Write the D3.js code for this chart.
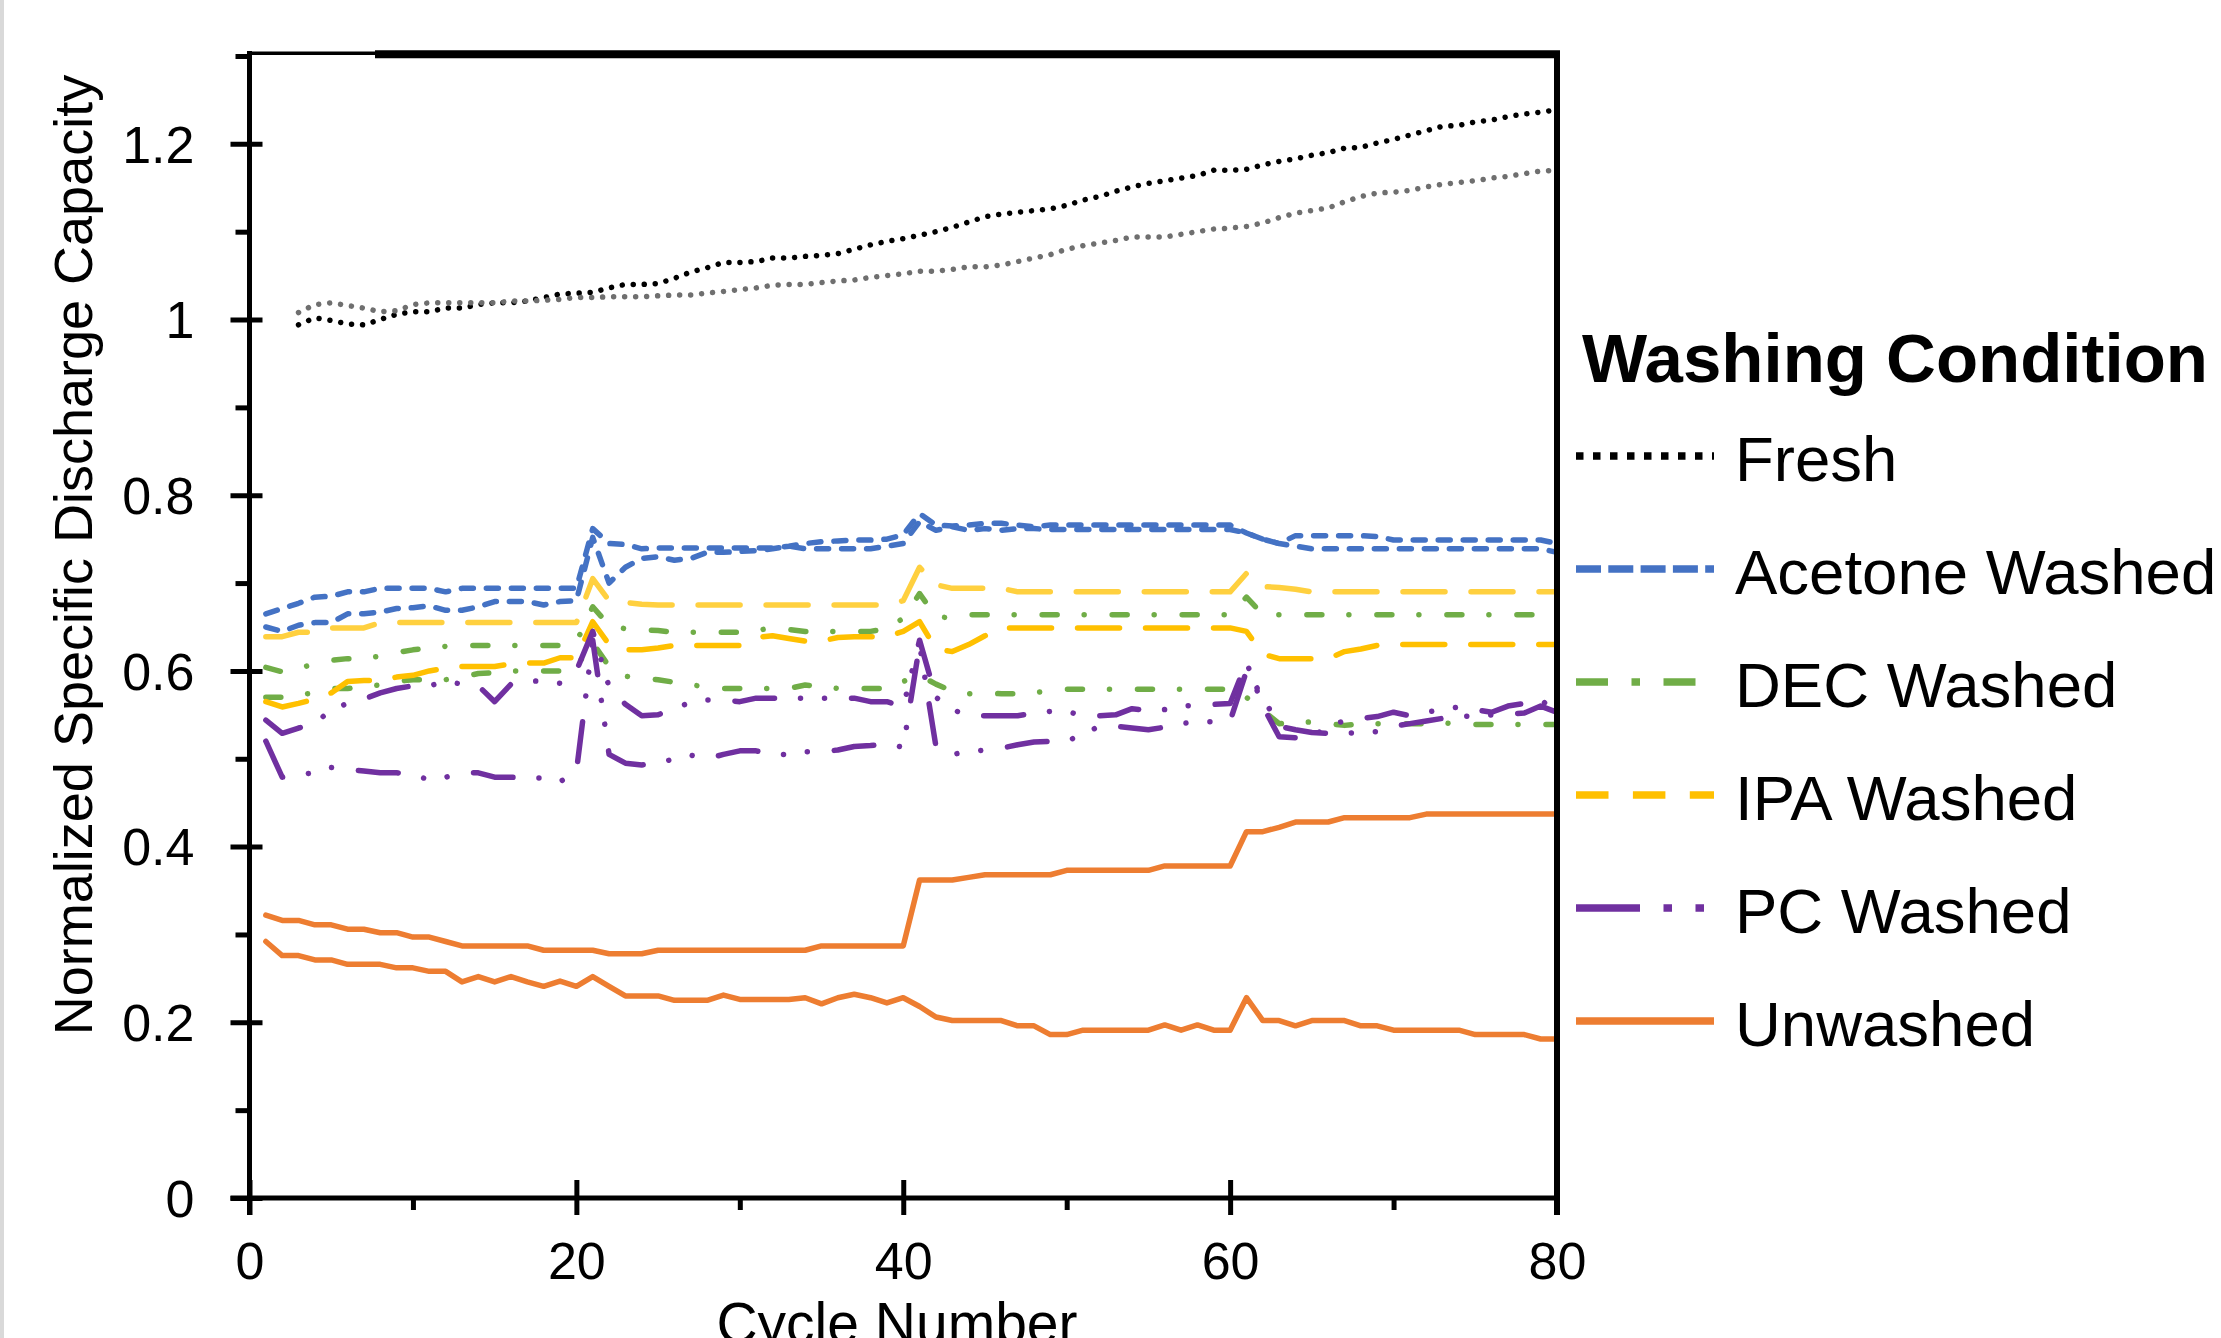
<!DOCTYPE html>
<html>
<head>
<meta charset="utf-8">
<script src="https://cdn.jsdelivr.net/npm/d3@7"></script>
<style>
  html, body { margin: 0; padding: 0; background: #fff; }
  svg { display: block; font-family: "Liberation Sans", Arial, sans-serif; }
</style>
</head>
<body>
<div id="chart"></div>
<script>
// cycle numbers (x categories)
const cycles = [
  1, 2, 3, 4, 5, 6, 7, 8, 9, 10, 11, 12, 13, 14, 15, 16, 17, 18, 19, 20,
  21, 22, 23, 24, 25, 26, 27, 28, 29, 30, 31, 32, 33, 34, 35, 36, 37, 38, 39, 40,
  41, 42, 43, 44, 45, 46, 47, 48, 49, 50, 51, 52, 53, 54, 55, 56, 57, 58, 59, 60,
  61, 62, 63, 64, 65, 66, 67, 68, 69, 70, 71, 72, 73, 74, 75, 76, 77, 78, 79, 80
];

// two cells per washing condition
const freshA = [
  null, null, 0.994, 1.002, 0.999, 0.995, 0.994, 1.000, 1.006, 1.009,
  1.009, 1.013, 1.013, 1.017, 1.019, 1.019, 1.021, 1.025, 1.029, 1.030,
  1.031, 1.036, 1.040, 1.040, 1.041, 1.047, 1.054, 1.059, 1.065, 1.065,
  1.066, 1.070, 1.070, 1.072, 1.073, 1.075, 1.080, 1.085, 1.089, 1.092,
  1.096, 1.100, 1.105, 1.111, 1.117, 1.120, 1.122, 1.124, 1.126, 1.130,
  1.136, 1.140, 1.146, 1.151, 1.155, 1.158, 1.161, 1.164, 1.170, 1.170,
  1.171, 1.176, 1.180, 1.183, 1.187, 1.190, 1.195, 1.196, 1.201, 1.205,
  1.210, 1.215, 1.220, 1.221, 1.225, 1.227, 1.231, 1.234, 1.236, 1.239
];
const freshB = [
  null, null, 1.008, 1.017, 1.019, 1.016, 1.013, 1.009, 1.010, 1.017,
  1.019, 1.019, 1.019, 1.019, 1.019, 1.021, 1.021, 1.022, 1.023, 1.025,
  1.025, 1.026, 1.026, 1.026, 1.027, 1.028, 1.028, 1.030, 1.032, 1.034,
  1.036, 1.039, 1.040, 1.040, 1.042, 1.044, 1.045, 1.048, 1.050, 1.052,
  1.055, 1.055, 1.057, 1.060, 1.060, 1.062, 1.066, 1.070, 1.074, 1.080,
  1.084, 1.087, 1.090, 1.094, 1.094, 1.094, 1.097, 1.100, 1.103, 1.104,
  1.106, 1.110, 1.116, 1.121, 1.124, 1.127, 1.134, 1.140, 1.144, 1.145,
  1.147, 1.151, 1.154, 1.156, 1.158, 1.161, 1.163, 1.166, 1.169, 1.170
];
const acetoneA = [
  0.665, 0.671, 0.677, 0.684, 0.685, 0.690, 0.690, 0.694, 0.694, 0.694,
  0.694, 0.690, 0.694, 0.694, 0.694, 0.694, 0.694, 0.694, 0.694, 0.694,
  0.762, 0.745, 0.744, 0.739, 0.740, 0.740, 0.740, 0.740, 0.740, 0.740,
  0.740, 0.740, 0.742, 0.745, 0.747, 0.748, 0.749, 0.749, 0.750, 0.755,
  0.779, 0.766, 0.765, 0.766, 0.768, 0.768, 0.766, 0.764, 0.766, 0.766,
  0.766, 0.766, 0.766, 0.766, 0.766, 0.766, 0.766, 0.766, 0.766, 0.766,
  0.757, 0.750, 0.745, 0.754, 0.754, 0.754, 0.754, 0.754, 0.753, 0.749,
  0.749, 0.749, 0.749, 0.749, 0.749, 0.749, 0.749, 0.749, 0.749, 0.745
];
const acetoneB = [
  0.650, 0.645, 0.652, 0.655, 0.655, 0.665, 0.665, 0.667, 0.671, 0.672,
  0.674, 0.669, 0.669, 0.673, 0.679, 0.679, 0.679, 0.675, 0.679, 0.680,
  0.752, 0.700, 0.718, 0.728, 0.730, 0.726, 0.728, 0.735, 0.735, 0.736,
  0.737, 0.739, 0.742, 0.739, 0.739, 0.739, 0.739, 0.739, 0.742, 0.745,
  0.770, 0.760, 0.764, 0.760, 0.762, 0.760, 0.762, 0.762, 0.761, 0.761,
  0.761, 0.761, 0.761, 0.761, 0.761, 0.761, 0.761, 0.761, 0.761, 0.761,
  0.757, 0.750, 0.745, 0.742, 0.739, 0.739, 0.739, 0.739, 0.739, 0.739,
  0.739, 0.739, 0.739, 0.739, 0.739, 0.739, 0.739, 0.739, 0.739, 0.735
];
const decA = [
  0.604, 0.599, 0.603, 0.608, 0.612, 0.614, 0.614, 0.617, 0.621, 0.624,
  0.626, 0.628, 0.629, 0.629, 0.629, 0.629, 0.629, 0.629, 0.629, 0.633,
  0.673, 0.652, 0.648, 0.647, 0.646, 0.644, 0.644, 0.644, 0.644, 0.644,
  0.646, 0.649, 0.647, 0.645, 0.645, 0.645, 0.645, 0.645, 0.648, 0.660,
  0.688, 0.662, 0.660, 0.664, 0.664, 0.664, 0.664, 0.664, 0.664, 0.664,
  0.664, 0.664, 0.664, 0.664, 0.664, 0.664, 0.664, 0.664, 0.664, 0.664,
  0.684, 0.664, 0.664, 0.664, 0.664, 0.664, 0.664, 0.664, 0.664, 0.664,
  0.664, 0.664, 0.664, 0.664, 0.664, 0.664, 0.664, 0.664, 0.664, 0.664
];
const decB = [
  0.570, 0.570, 0.573, 0.575, 0.580, 0.580, 0.582, 0.584, 0.588, 0.590,
  0.590, 0.590, 0.593, 0.597, 0.598, 0.600, 0.600, 0.600, 0.600, 0.605,
  0.632, 0.605, 0.594, 0.592, 0.590, 0.587, 0.584, 0.582, 0.580, 0.580,
  0.580, 0.580, 0.580, 0.584, 0.582, 0.580, 0.580, 0.580, 0.580, 0.588,
  0.595, 0.585, 0.577, 0.574, 0.575, 0.574, 0.574, 0.575, 0.578, 0.579,
  0.579, 0.579, 0.579, 0.579, 0.579, 0.579, 0.579, 0.579, 0.579, 0.579,
  0.570, 0.555, 0.540, 0.541, 0.542, 0.540, 0.538, 0.540, 0.540, 0.540,
  0.540, 0.540, 0.541, 0.539, 0.539, 0.539, 0.539, 0.539, 0.539, 0.539
];
const ipaA = [
  0.639, 0.639, 0.644, 0.644, 0.649, 0.649, 0.649, 0.655, 0.655, 0.655,
  0.655, 0.655, 0.655, 0.655, 0.655, 0.655, 0.655, 0.655, 0.655, 0.655,
  0.705, 0.680, 0.678, 0.676, 0.675, 0.675, 0.675, 0.675, 0.675, 0.675,
  0.675, 0.675, 0.675, 0.675, 0.675, 0.675, 0.675, 0.675, 0.675, 0.680,
  0.718, 0.698, 0.694, 0.694, 0.694, 0.694, 0.690, 0.690, 0.690, 0.690,
  0.690, 0.690, 0.690, 0.690, 0.690, 0.690, 0.690, 0.690, 0.690, 0.690,
  0.711, 0.696, 0.695, 0.693, 0.690, 0.690, 0.690, 0.690, 0.690, 0.690,
  0.690, 0.690, 0.690, 0.690, 0.690, 0.690, 0.690, 0.690, 0.690, 0.690
];
const ipaB = [
  0.565, 0.559, 0.563, 0.568, 0.575, 0.588, 0.589, 0.589, 0.593, 0.595,
  0.600, 0.603, 0.605, 0.605, 0.605, 0.608, 0.609, 0.609, 0.615, 0.615,
  0.656, 0.630, 0.624, 0.624, 0.626, 0.629, 0.629, 0.629, 0.629, 0.629,
  0.638, 0.640, 0.637, 0.634, 0.634, 0.638, 0.639, 0.639, 0.639, 0.645,
  0.656, 0.625, 0.622, 0.630, 0.640, 0.649, 0.649, 0.649, 0.649, 0.649,
  0.649, 0.649, 0.649, 0.649, 0.649, 0.649, 0.649, 0.649, 0.649, 0.649,
  0.645, 0.619, 0.614, 0.614, 0.614, 0.614, 0.622, 0.625, 0.629, 0.630,
  0.630, 0.630, 0.630, 0.630, 0.630, 0.630, 0.630, 0.630, 0.630, 0.630
];
const pcA = [
  0.544, 0.529, 0.535, 0.540, 0.556, 0.563, 0.568, 0.575, 0.580, 0.583,
  0.583, 0.588, 0.585, 0.583, 0.565, 0.585, 0.589, 0.588, 0.586, 0.600,
  0.645, 0.582, 0.562, 0.549, 0.550, 0.558, 0.564, 0.567, 0.567, 0.565,
  0.569, 0.569, 0.569, 0.569, 0.569, 0.569, 0.569, 0.565, 0.565, 0.559,
  0.635, 0.570, 0.556, 0.549, 0.549, 0.549, 0.549, 0.552, 0.554, 0.554,
  0.549, 0.549, 0.550, 0.557, 0.555, 0.556, 0.560, 0.561, 0.562, 0.563,
  0.610, 0.560, 0.525, 0.524, 0.524, 0.538, 0.543, 0.546, 0.548, 0.553,
  0.549, 0.553, 0.556, 0.559, 0.556, 0.553, 0.560, 0.563, 0.568, 0.550
];
const pcB = [
  0.520, 0.479, 0.482, 0.484, 0.490, 0.488, 0.486, 0.484, 0.484, 0.482,
  0.476, 0.479, 0.484, 0.484, 0.479, 0.479, 0.478, 0.478, 0.474, 0.485,
  0.635, 0.505, 0.495, 0.493, 0.495, 0.500, 0.504, 0.500, 0.505, 0.509,
  0.509, 0.505, 0.505, 0.508, 0.508, 0.510, 0.514, 0.515, 0.517, 0.513,
  0.630, 0.514, 0.505, 0.508, 0.510, 0.512, 0.516, 0.519, 0.520, 0.520,
  0.528, 0.537, 0.537, 0.535, 0.533, 0.536, 0.540, 0.542, 0.542, 0.543,
  0.600, 0.570, 0.537, 0.533, 0.530, 0.529, 0.529, 0.530, 0.531, 0.537,
  0.540, 0.543, 0.546, 0.548, 0.549, 0.550, 0.551, 0.552, 0.560, 0.553
];
const unwashedA = [
  0.322, 0.316, 0.316, 0.311, 0.311, 0.306, 0.306, 0.302, 0.302, 0.297,
  0.297, 0.292, 0.287, 0.287, 0.287, 0.287, 0.287, 0.282, 0.282, 0.282,
  0.282, 0.278, 0.278, 0.278, 0.282, 0.282, 0.282, 0.282, 0.282, 0.282,
  0.282, 0.282, 0.282, 0.282, 0.287, 0.287, 0.287, 0.287, 0.287, 0.287,
  0.362, 0.362, 0.362, 0.365, 0.368, 0.368, 0.368, 0.368, 0.368, 0.373,
  0.373, 0.373, 0.373, 0.373, 0.373, 0.378, 0.378, 0.378, 0.378, 0.378,
  0.417, 0.417, 0.422, 0.428, 0.428, 0.428, 0.433, 0.433, 0.433, 0.433,
  0.433, 0.437, 0.437, 0.437, 0.437, 0.437, 0.437, 0.437, 0.437, 0.437
];
const unwashedB = [
  0.292, 0.276, 0.276, 0.271, 0.271, 0.266, 0.266, 0.266, 0.262, 0.262,
  0.258, 0.258, 0.246, 0.252, 0.246, 0.252, 0.246, 0.241, 0.247, 0.241,
  0.252, 0.241, 0.230, 0.230, 0.230, 0.225, 0.225, 0.225, 0.231, 0.226,
  0.226, 0.226, 0.226, 0.228, 0.221, 0.228, 0.232, 0.228, 0.222, 0.228,
  0.218, 0.206, 0.202, 0.202, 0.202, 0.202, 0.196, 0.196, 0.186, 0.186,
  0.191, 0.191, 0.191, 0.191, 0.191, 0.197, 0.191, 0.197, 0.191, 0.191,
  0.228, 0.202, 0.202, 0.196, 0.202, 0.202, 0.202, 0.196, 0.196, 0.191,
  0.191, 0.191, 0.191, 0.191, 0.186, 0.186, 0.186, 0.186, 0.181, 0.181
];

const yMajor = [0, 0.2, 0.4, 0.6, 0.8, 1, 1.2];
const yMinor = [0.1, 0.3, 0.5, 0.7, 0.9, 1.1, 1.3];
const xMajor = [0, 20, 40, 60, 80];
const xMinor = [10, 30, 50, 70];

// legend entries, plot style per condition
const conditions = [
  { name: "Fresh", color: "#000000", dash: "0.01 11", legendDash: "7.5 9.5",
    lines: [{ values: freshA, color: "#000000" }, { values: freshB, color: "#6f6f6f" }] },
  { name: "Acetone Washed", color: "#4472C4", dash: "12 13", legendDash: "25 7.3",
    lines: [{ values: acetoneA }, { values: acetoneB }] },
  { name: "DEC Washed", color: "#70AD47", dash: "15 27 0.01 28", legendDash: "32 23.5 8.5 23.5",
    lines: [{ values: decA }, { values: decB }] },
  { name: "IPA Washed", color: "#FFC000", dash: "42 26", legendDash: "32.5 24.4",
    lines: [{ values: ipaA, color: "#FFD03F" }, { values: ipaB }] },
  { name: "PC Washed", color: "#7030A0", dash: "40 26 0.01 24 0.01 27", legendDash: "64 23.5 8.5 23.5 8.5 23.5",
    lines: [{ values: pcA }, { values: pcB }] },
  { name: "Unwashed", color: "#ED7D31", dash: null, legendDash: null,
    lines: [{ values: unwashedA }, { values: unwashedB }] }
];

const width = 2221;
const height = 1338;
const plotLeft = 249.5, plotRight = 1557, plotTop = 56, plotBottom = 1198;

const svg = d3.select("#chart")
  .append("svg")
  .attr("width", width)
  .attr("height", height)
  .attr("viewBox", `0 0 ${width} ${height}`);

svg.append("rect").attr("width", width).attr("height", height).attr("fill", "#fff");
// thin grey strip on the left edge
svg.append("rect").attr("x", 0).attr("y", 0).attr("width", 4).attr("height", height).attr("fill", "#d9d9d9");

const x = d3.scaleLinear().domain([0, 80]).range([plotLeft, plotRight]);
const y = d3.scaleLinear().domain([0, 1.3]).range([plotBottom, plotTop]);

// series lines
const line = d3.line()
  .defined((d) => d[1] != null)
  .x((d) => x(d[0]))
  .y((d) => y(d[1]));

const plot = svg.append("g");
conditions.forEach((c) => {
  c.lines.forEach((l) => {
    plot.append("path")
      .datum(cycles.map((cy, i) => [cy, l.values[i]]))
      .attr("d", line)
      .attr("fill", "none")
      .attr("stroke", l.color || c.color)
      .attr("stroke-width", 5.5)
      .attr("stroke-linecap", "round")
      .attr("stroke-linejoin", "round")
      .attr("stroke-dasharray", c.dash);
  });
});

// frame: top border (thin then thick), right border
svg.append("line").attr("x1", plotLeft).attr("x2", 375).attr("y1", 53.3).attr("y2", 53.3)
  .attr("stroke", "#000").attr("stroke-width", 3.4);
svg.append("line").attr("x1", 375).attr("x2", plotRight + 3).attr("y1", 54.2).attr("y2", 54.2)
  .attr("stroke", "#000").attr("stroke-width", 8);
svg.append("line").attr("x1", plotRight).attr("x2", plotRight).attr("y1", 51).attr("y2", plotBottom + 17)
  .attr("stroke", "#000").attr("stroke-width", 6);

// y axis
const yAxisG = svg.append("g").attr("transform", `translate(${plotLeft},0)`)
  .call(d3.axisLeft(y).tickValues(yMajor).tickSize(19).tickPadding(36)
    .tickFormat((d) => d3.format("~g")(d)));
yAxisG.select(".domain").remove();
yAxisG.selectAll(".tick line").attr("stroke-width", 5).attr("x2", 13).attr("x1", -19);
yAxisG.selectAll(".tick text")
  .attr("fill", "#000")
  .style("font-size", "52px")
  .attr("dy", "0.35em");

const yMinorG = svg.append("g").attr("transform", `translate(${plotLeft},0)`)
  .call(d3.axisLeft(y).tickValues(yMinor).tickSize(14).tickFormat(""));
yMinorG.select(".domain").remove();
yMinorG.selectAll(".tick line").attr("stroke-width", 5);

// x axis
const xAxisG = svg.append("g").attr("transform", `translate(0,${plotBottom})`)
  .call(d3.axisBottom(x).tickValues(xMajor).tickSize(17).tickPadding(27));
xAxisG.select(".domain").remove();
xAxisG.selectAll(".tick line").attr("stroke-width", 5).attr("y1", -18);
xAxisG.selectAll(".tick text").attr("fill", "#000").style("font-size", "52px");

const xMinorG = svg.append("g").attr("transform", `translate(0,${plotBottom})`)
  .call(d3.axisBottom(x).tickValues(xMinor).tickSize(12).tickFormat(""));
xMinorG.select(".domain").remove();
xMinorG.selectAll(".tick line").attr("stroke-width", 5);

// axis lines
svg.append("line").attr("x1", plotLeft).attr("x2", plotLeft).attr("y1", 51).attr("y2", plotBottom + 17)
  .attr("stroke", "#000").attr("stroke-width", 5);
svg.append("line").attr("x1", plotLeft - 19).attr("x2", plotRight + 3).attr("y1", plotBottom).attr("y2", plotBottom)
  .attr("stroke", "#000").attr("stroke-width", 5);

// axis titles
svg.append("text")
  .attr("transform", "translate(92,555) rotate(-90)")
  .attr("text-anchor", "middle")
  .style("font-size", "54px")
  .text("Normalized Specific Discharge Capacity");

// sits low like the source image, bottom of the glyphs runs off the edge
svg.append("text")
  .attr("x", 897)
  .attr("y", 1343)
  .attr("text-anchor", "middle")
  .style("font-size", "57px")
  .text("Cycle Number");

// legend
const legend = svg.append("g");
legend.append("text")
  .attr("x", 1582)
  .attr("y", 382)
  .style("font-size", "69px")
  .style("font-weight", "bold")
  .text("Washing Condition");

const item = legend.selectAll("g.item")
  .data(conditions)
  .enter()
  .append("g")
  .attr("class", "item")
  .attr("transform", (d, i) => `translate(0,${481 + i * 113})`);

item.append("line")
  .attr("x1", 1576).attr("x2", 1714)
  .attr("y1", -25).attr("y2", -25)
  .attr("stroke", (d) => d.color)
  .attr("stroke-width", 7.5)
  .attr("stroke-dasharray", (d) => d.legendDash);

item.append("text")
  .attr("x", 1735)
  .attr("y", 0)
  .style("font-size", "63.5px")
  .text((d) => d.name);
</script>
</body>
</html>
